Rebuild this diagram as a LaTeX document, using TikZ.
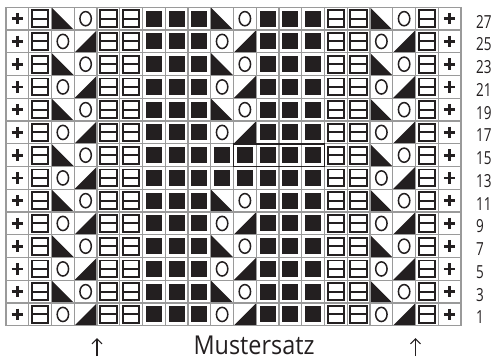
\documentclass[tikz,border=0pt]{standalone}
\usepackage{fontspec}
\setsansfont{Open Sans}
\usetikzlibrary{arrows.meta}
\definecolor{gridline}{HTML}{9a9a9a}
\definecolor{ink}{HTML}{231f20}
\tikzset{
  cellgrid/.style={draw=gridline, line width=1.3pt},
  plusline/.style={draw=ink, line width=2.7pt},
  boxline/.style={draw=ink, line width=1.9pt},
  yoline/.style={draw=ink, line width=1.5pt},
  knplus/.pic={\draw[plusline] (-5.8,0) -- (5.8,0) (0,-5.8) -- (0,5.8);},
  knbox/.pic={\draw[boxline] (-8.3,-8.4) rectangle (8.3,8.4);
              \draw[boxline] (-8.3,0) -- (8.3,0);},
  knfull/.pic={\fill[ink] (-8,-8) rectangle (8,8);},
  knyo/.pic={\draw[yoline] (0,0) ellipse [x radius=5.7, y radius=7.1];},
  kntriL/.pic={\fill[ink] (-11.4,-11.4) -- (-11.4,11.4) -- (11.4,11.4) -- cycle;},
  kntriR/.pic={\fill[ink] (11.4,-11.4) -- (11.4,11.4) -- (-11.4,11.4) -- cycle;},
  markbox/.style={draw=ink, line width=1.6pt},
  rowlabel/.style={font=\sffamily\fontsize{18}{18}\selectfont, text=ink,
                   anchor=west, inner sep=0pt},
  reptext/.style={font=\sffamily\fontsize{26}{26}\selectfont, text=ink,
                  anchor=base, inner sep=0pt},
  reparrow/.style={draw=ink, line width=1.2pt, -{Straight Barb[length=5pt,width=10pt]}}
}

\begin{document}
\begin{tikzpicture}[x=1pt, y=-1pt]
  \useasboundingbox (0,0) rectangle (499,360);
  \def\cs{22.75}  % cell size
  \def\gx{6}      % left edge of chart
  \def\gy{7.3}    % top edge of chart

  % ===== Symbols, row by row (r=0 is row 27) =====
  % 0 plus, 1 box, 2/3 decrease pair, 4 full, 5/6 middle pair
  \foreach \r in {0,...,13} {
    \foreach \c/\t in {0/0,1/1,2/2,3/3,4/1,5/1,6/4,7/4,8/4,9/5,10/6,
                       11/4,12/4,13/4,14/1,15/1,16/2,17/3,18/1,19/0} {
      \pgfmathsetmacro{\px}{\gx + \c*\cs + \cs/2}
      \pgfmathsetmacro{\py}{\gy + \r*\cs + \cs/2}
      \pgfmathtruncatemacro{\midrow}{(\r==6 || \r==7) ? 1 : 0}
      \ifcase\t
        \pic at (\px,\py) {knplus};
      \or
        \pic at (\px,\py) {knbox};
      \or
        \ifodd\r \pic at (\px,\py) {knyo}; \else \pic at (\px,\py) {kntriL}; \fi
      \or
        \ifodd\r \pic at (\px,\py) {kntriR}; \else \pic at (\px,\py) {knyo}; \fi
      \or
        \pic at (\px,\py) {knfull};
      \or
        \ifnum\midrow=1 \pic at (\px,\py) {knfull};
        \else\ifodd\r \pic at (\px,\py) {knyo}; \else \pic at (\px,\py) {kntriL}; \fi\fi
      \or
        \ifnum\midrow=1 \pic at (\px,\py) {knfull};
        \else\ifodd\r \pic at (\px,\py) {kntriR}; \else \pic at (\px,\py) {knyo}; \fi\fi
      \fi
    }
  }

  % ===== Grid lines =====
  \foreach \i in {0,...,20}
    \draw[cellgrid] (\gx+\i*\cs, \gy) -- (\gx+\i*\cs, \gy+14*\cs);
  \foreach \j in {0,...,14}
    \draw[cellgrid] (\gx, \gy+\j*\cs) -- (\gx+20*\cs, \gy+\j*\cs);

  % marked block in row 15
  \draw[markbox] (\gx+10*\cs, \gy+6*\cs) rectangle (\gx+14*\cs, \gy+7*\cs);

  % ===== Row numbers =====
  \foreach \r in {0,...,13} {
    \pgfmathtruncatemacro{\lab}{27-2*\r}
    \node[rowlabel] (row-\lab) at (476, \gy+\r*\cs+\cs/2+3)
      {\scalebox{0.75}[1]{\lab}};
  }

  % ===== Pattern repeat =====
  \coordinate (repL-tail) at (97.0,356);
  \coordinate (repL-tip)  at (97.0,338);
  \coordinate (repR-tail) at (415.5,356);
  \coordinate (repR-tip)  at (415.5,338);
  \draw[reparrow] (repL-tail) -- (repL-tip);
  \draw[reparrow] (repR-tail) -- (repR-tip);
  \node[reptext] (rep) at (254,354) {\scalebox{0.9}[1]{Mustersatz}};

\end{tikzpicture}
\end{document}
